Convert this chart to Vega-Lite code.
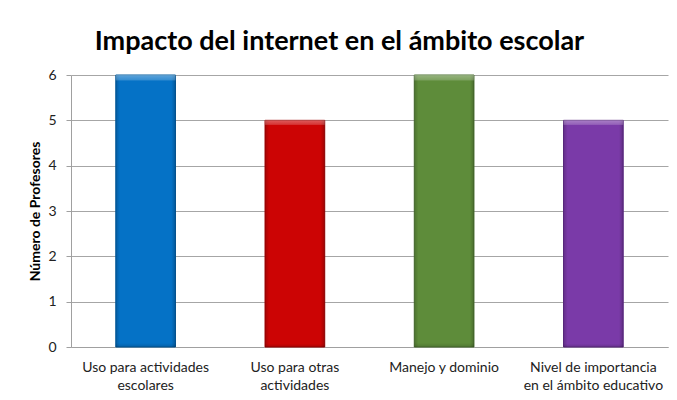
{
  "$schema": "https://vega.github.io/schema/vega-lite/v6.json",
  "width": 597,
  "height": 272,
  "autosize": "none",
  "padding": {"left": 71, "top": 75, "right": 9, "bottom": 53},
  "background": "white",
  "title": {
    "text": "Impacto del internet en el ámbito escolar",
    "font": "Lato",
    "fontSize": 27,
    "fontWeight": "bold",
    "color": "#000000",
    "anchor": "middle",
    "frame": "group",
    "dx": -30,
    "offset": 12
  },
  "data": {
    "values": [
      {"categoria": "Uso para actividades escolares", "profesores": 6},
      {"categoria": "Uso para otras actividades", "profesores": 5},
      {"categoria": "Manejo y dominio", "profesores": 6},
      {"categoria": "Nivel de importancia en el ámbito educativo", "profesores": 5}
    ]
  },
  "encoding": {
    "x": {
      "field": "categoria",
      "type": "nominal",
      "sort": null,
      "scale": {"paddingInner": 0.6, "paddingOuter": 0.3},
      "axis": {
        "title": null,
        "labelAngle": 0,
        "ticks": false,
        "domainColor": "#a0a0a0",
        "labelFont": "Lato",
        "labelFontSize": 14,
        "labelColor": "#222222",
        "labelPadding": 20,
        "labelLineHeight": 18,
        "labelBaseline": "middle",
        "labelExpr": "datum.value == 'Uso para actividades escolares' ? ['Uso para actividades', 'escolares'] : datum.value == 'Uso para otras actividades' ? ['Uso para otras', 'actividades'] : datum.value == 'Nivel de importancia en el ámbito educativo' ? ['Nivel de importancia', 'en el ámbito educativo'] : datum.value"
      }
    },
    "y": {
      "field": "profesores",
      "type": "quantitative",
      "scale": {"domain": [0, 6], "nice": false},
      "axis": {
        "title": "Número  de Profesores",
        "titleFont": "Lato",
        "titleFontSize": 14,
        "titleFontWeight": "bold",
        "titleColor": "#000000",
        "titlePadding": 5,
        "values": [0, 1, 2, 3, 4, 5, 6],
        "labelOverlap": false,
        "labelFont": "Lato",
        "labelFontSize": 14,
        "labelColor": "#222222",
        "labelPadding": 10,
        "tickSize": 5,
        "tickColor": "#a0a0a0",
        "domainColor": "#a0a0a0",
        "gridColor": "#a6a6a6",
        "grid": true
      }
    }
  },
  "layer": [
    {
      "mark": {"type": "bar", "strokeWidth": 1},
      "encoding": {
        "color": {
          "field": "categoria",
          "type": "nominal",
          "sort": null,
          "scale": {
            "domain": ["Uso para actividades escolares", "Uso para otras actividades", "Manejo y dominio", "Nivel de importancia en el ámbito educativo"],
            "range": ["#0572c6", "#cc0404", "#5e8c3a", "#7a3aa8"]
          },
          "legend": null
        },
        "stroke": {
          "field": "categoria",
          "type": "nominal",
          "sort": null,
          "scale": {
            "domain": ["Uso para actividades escolares", "Uso para otras actividades", "Manejo y dominio", "Nivel de importancia en el ámbito educativo"],
            "range": ["#035a9c", "#a00000", "#4a7030", "#5e2a85"]
          },
          "legend": null
        }
      }
    },
    {
      "mark": {
        "type": "bar",
        "color": {
          "gradient": "linear",
          "x1": 0, "y1": 0, "x2": 1, "y2": 0,
          "stops": [
            {"offset": 0, "color": "rgba(0,0,0,0.18)"},
            {"offset": 0.07, "color": "rgba(0,0,0,0)"},
            {"offset": 0.93, "color": "rgba(0,0,0,0)"},
            {"offset": 1, "color": "rgba(0,0,0,0.22)"}
          ]
        }
      }
    },
    {
      "mark": {
        "type": "bar",
        "color": {
          "gradient": "linear",
          "x1": 0, "y1": 0, "x2": 0, "y2": 1,
          "stops": [
            {"offset": 0, "color": "rgba(255,255,255,0.35)"},
            {"offset": 0.018, "color": "rgba(255,255,255,0.2)"},
            {"offset": 0.022, "color": "rgba(255,255,255,0)"},
            {"offset": 0.985, "color": "rgba(0,0,0,0)"},
            {"offset": 1, "color": "rgba(0,0,0,0.15)"}
          ]
        }
      }
    }
  ],
  "config": {
    "view": {"stroke": null},
    "axis": {"gridWidth": 1}
  }
}
